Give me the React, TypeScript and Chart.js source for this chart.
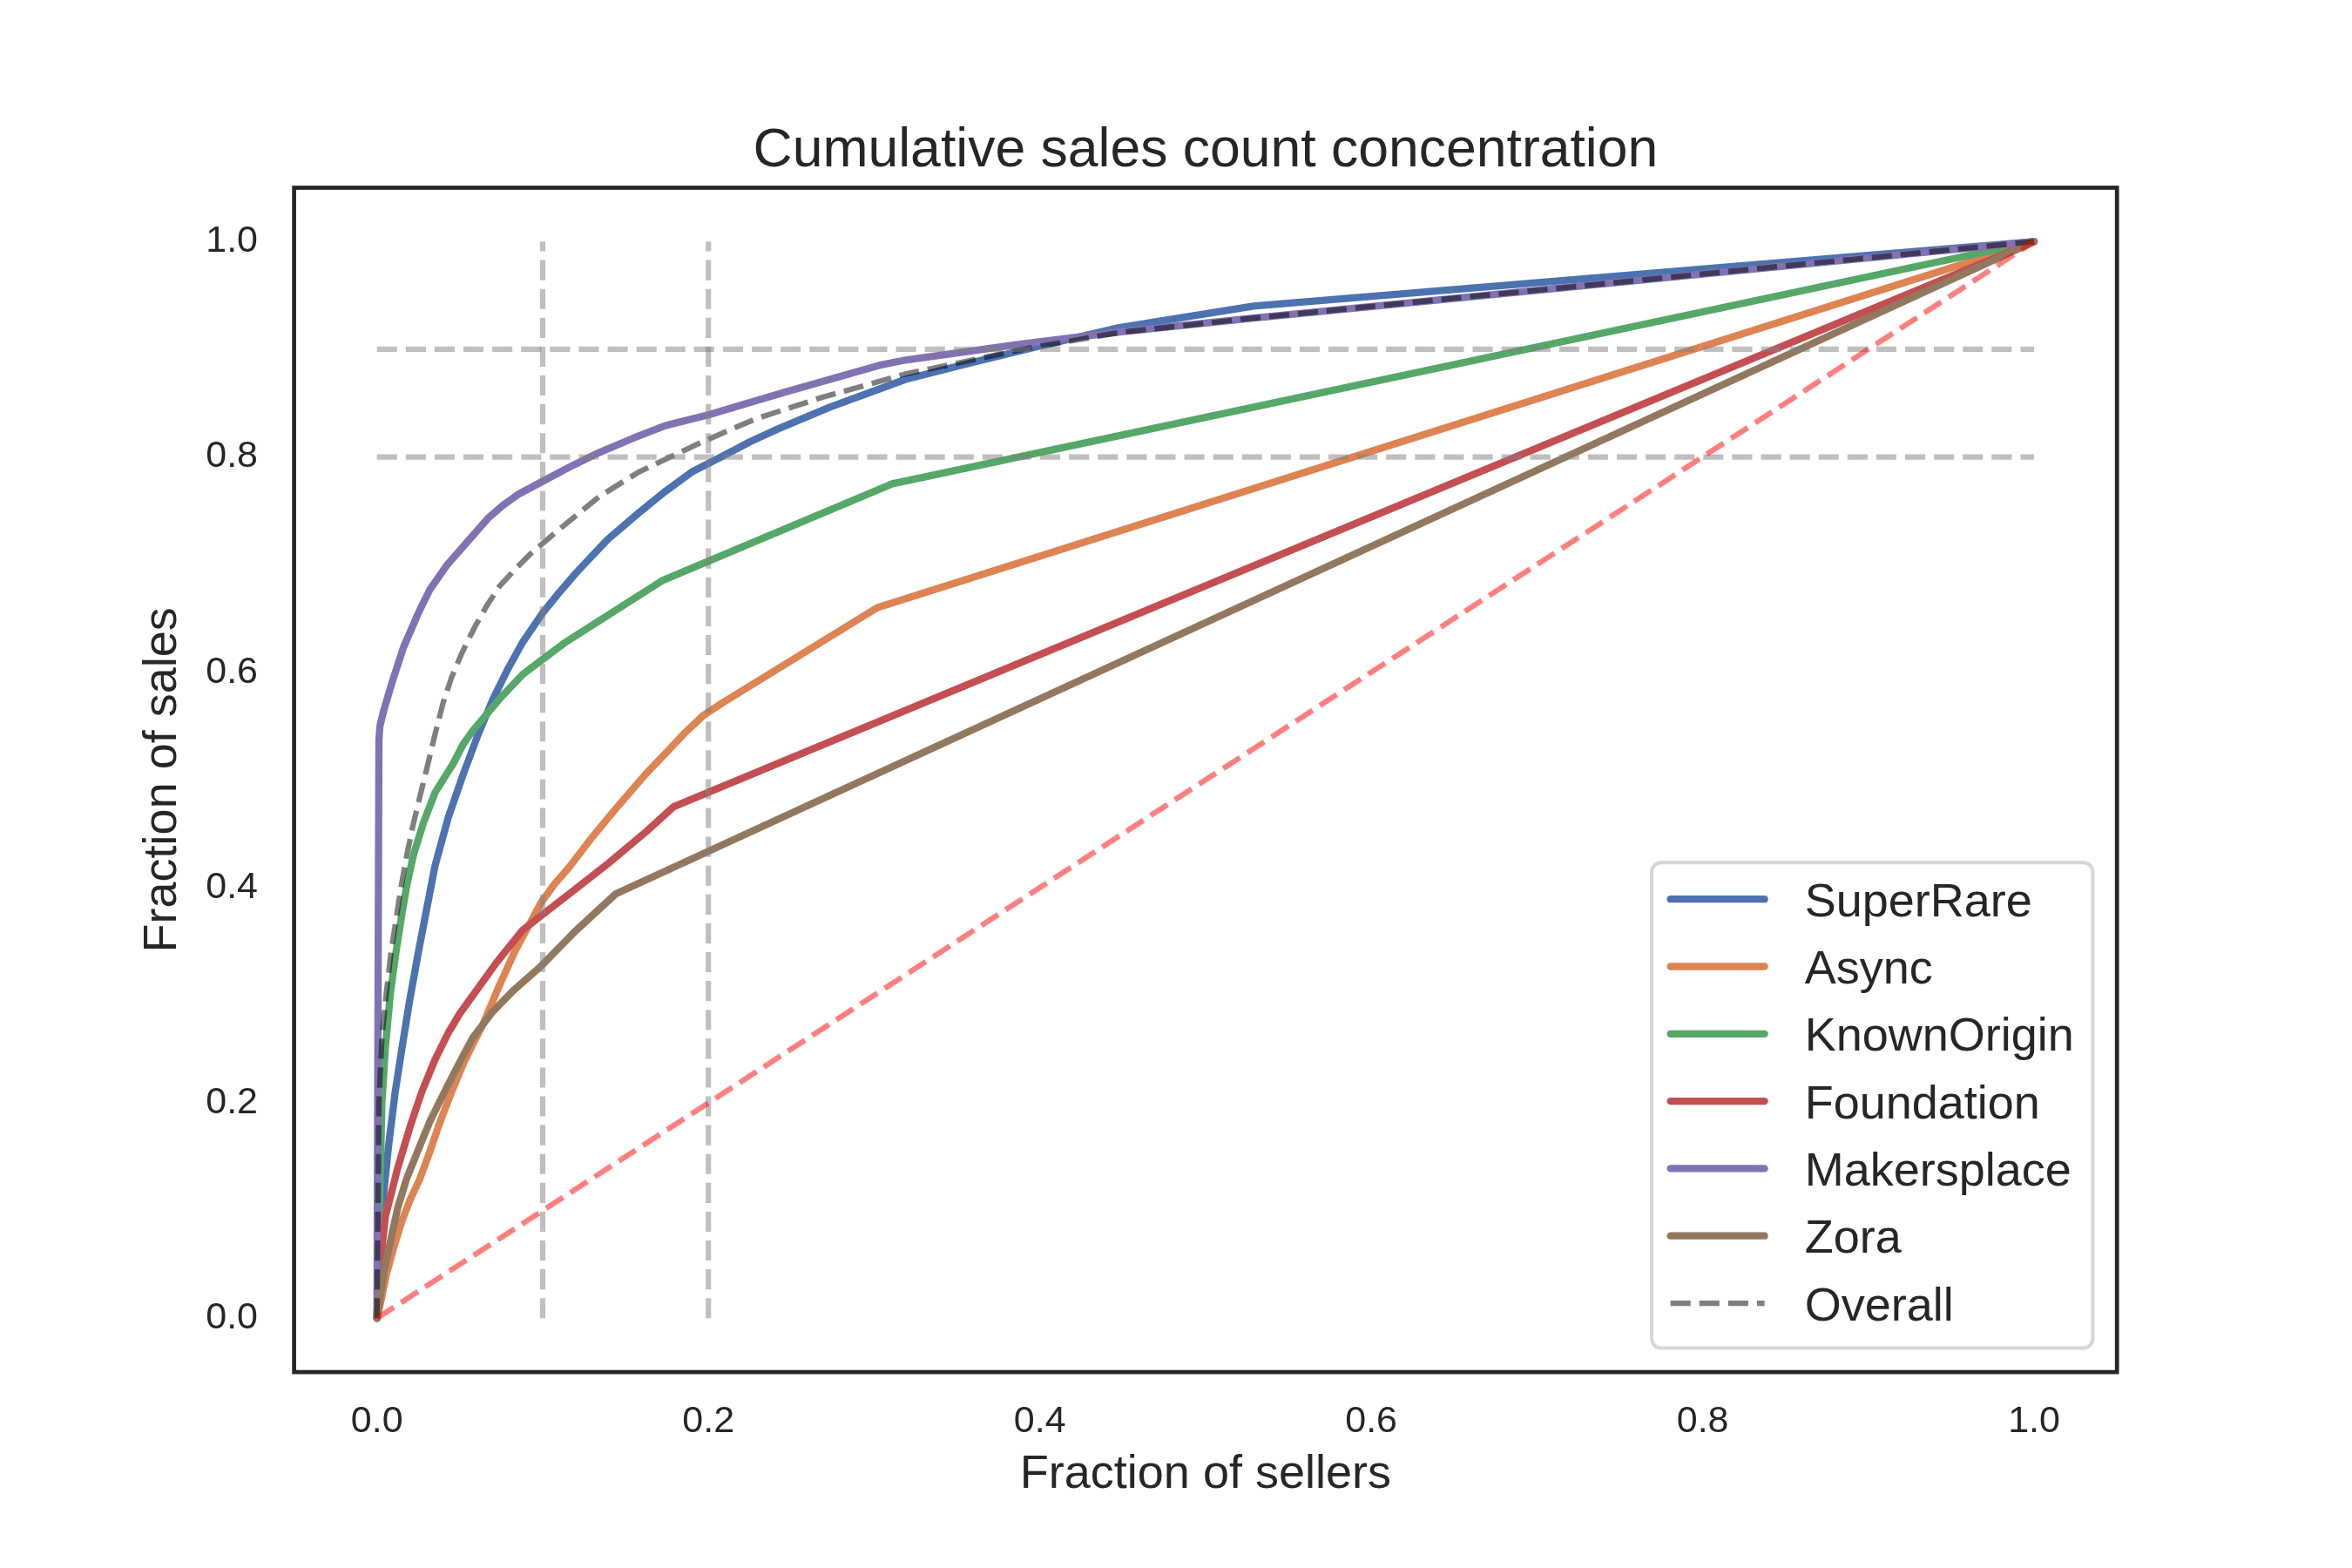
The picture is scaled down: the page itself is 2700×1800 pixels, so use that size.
import React, { useEffect, useRef } from "react";
import { Chart, registerables } from "chart.js";

Chart.register(...registerables);

// ---------------- data ----------------
const seriesNames = ["SuperRare", "Async", "KnownOrigin", "Foundation", "Makersplace", "Zora"];

const superRareX = [0, 0.003, 0.007, 0.011, 0.015, 0.0196, 0.025, 0.03, 0.035, 0.043, 0.052, 0.061, 0.07, 0.079, 0.088, 0.1, 0.11, 0.12, 0.139, 0.158, 0.174, 0.19, 0.209, 0.225, 0.242, 0.273, 0.319, 0.36, 0.4, 0.448, 0.529, 1];
const superRareY = [0, 0.1, 0.16, 0.21, 0.25, 0.294, 0.34, 0.38, 0.42, 0.465, 0.505, 0.542, 0.575, 0.603, 0.628, 0.655, 0.674, 0.692, 0.723, 0.748, 0.768, 0.786, 0.801, 0.814, 0.826, 0.846, 0.872, 0.888, 0.903, 0.92, 0.94, 1];

const asyncX = [0, 0.003, 0.0056, 0.01, 0.015, 0.02, 0.0255, 0.032, 0.038, 0.045, 0.052, 0.058, 0.064, 0.073, 0.083, 0.091, 0.099, 0.107, 0.116, 0.13, 0.144, 0.1625, 0.175, 0.186, 0.197, 0.209, 0.302, 1];
const asyncY = [0, 0.02, 0.04, 0.065, 0.09, 0.11, 0.128, 0.155, 0.182, 0.21, 0.236, 0.255, 0.273, 0.306, 0.34, 0.363, 0.386, 0.403, 0.419, 0.447, 0.473, 0.506, 0.526, 0.544, 0.56, 0.572, 0.66, 1];

const knownOriginX = [0, 0.0015, 0.003, 0.005, 0.008, 0.011, 0.015, 0.018, 0.022, 0.028, 0.035, 0.041, 0.046, 0.052, 0.058, 0.064, 0.075, 0.088, 0.1, 0.113, 0.172, 0.311, 1];
const knownOriginY = [0, 0.1, 0.2, 0.25, 0.3, 0.335, 0.375, 0.402, 0.43, 0.46, 0.488, 0.503, 0.515, 0.533, 0.546, 0.557, 0.577, 0.598, 0.612, 0.627, 0.685, 0.775, 1];

const foundationX = [0, 0.002, 0.005, 0.0126, 0.02, 0.027, 0.035, 0.043, 0.05, 0.057, 0.072, 0.0876, 0.1, 0.116, 0.14, 0.1625, 0.179, 1];
const foundationY = [0, 0.05, 0.094, 0.14, 0.178, 0.21, 0.24, 0.265, 0.283, 0.298, 0.33, 0.36, 0.375, 0.394, 0.423, 0.452, 0.475, 1];

const makersplaceX = [0, 0.0012, 0.0018, 0.004, 0.009, 0.016, 0.025, 0.032, 0.042, 0.055, 0.067, 0.076, 0.085, 0.102, 0.118, 0.134, 0.154, 0.174, 0.2, 0.246, 0.303, 0.319, 0.39, 0.448, 0.529, 1];
const makersplaceY = [0, 0.537, 0.55, 0.564, 0.59, 0.623, 0.655, 0.677, 0.699, 0.722, 0.743, 0.755, 0.765, 0.779, 0.792, 0.804, 0.817, 0.829, 0.839, 0.86, 0.885, 0.89, 0.905, 0.916, 0.929, 1];

const zoraX = [0, 0.0045, 0.0126, 0.018, 0.024, 0.032, 0.041, 0.05, 0.058, 0.07, 0.082, 0.099, 0.12, 0.144, 1];
const zoraY = [0, 0.045, 0.103, 0.13, 0.153, 0.183, 0.211, 0.238, 0.261, 0.285, 0.304, 0.327, 0.36, 0.394, 1];

const overallX = [0, 0.0012, 0.003, 0.0055, 0.0085, 0.0115, 0.0145, 0.018, 0.0215, 0.026, 0.03, 0.035, 0.04, 0.045, 0.051, 0.059, 0.066, 0.074, 0.083, 0.092, 0.111, 0.134, 0.158, 0.195, 0.228, 0.268, 0.319, 0.39, 0.448, 0.529, 1];
const overallY = [0, 0.2, 0.26, 0.3, 0.34, 0.37, 0.4, 0.43, 0.456, 0.485, 0.51, 0.542, 0.572, 0.595, 0.617, 0.642, 0.661, 0.68, 0.695, 0.709, 0.734, 0.763, 0.786, 0.813, 0.835, 0.855, 0.877, 0.9, 0.9155, 0.929, 1];

const refVerticalX = [0.1, 0.2];
const refHorizontalY = [0.8, 0.9];
const equalityX = [0, 1];
const equalityY = [0, 1];

const xTickValues = [0, 0.2, 0.4, 0.6, 0.8, 1.0];
const yTickValues = [0, 0.2, 0.4, 0.6, 0.8, 1.0];

const titleText = "Cumulative sales count concentration";
const xLabel = "Fraction of sellers";
const yLabel = "Fraction of sales";
const overallLabel = "Overall";

// ---------------- style ----------------
const FONT = "'Liberation Sans', Arial, Helvetica, sans-serif";
const INK = "#262626";
const LW_SERIES = 8.33;
const LW_DASH = 6.25;
const DASH = [23.1, 10];
const seriesColors = ["#4c72b0", "#dd8452", "#55a868", "#c44e52", "#8172b3", "#937860"];

function toPoints(xs: number[], ys: number[]) {
  return xs.map((x, i) => ({ x, y: ys[i] }));
}

const bgPlugin = {
  id: "bgWhite",
  beforeDraw(chart: any) {
    const ctx = chart.ctx;
    ctx.save();
    ctx.fillStyle = "#ffffff";
    ctx.fillRect(0, 0, chart.width, chart.height);
    ctx.restore();
  },
};

const framePlugin = {
  id: "axesFrame",
  afterDatasetsDraw(chart: any) {
    const ctx = chart.ctx;
    const ca = chart.chartArea;
    ctx.save();
    ctx.strokeStyle = INK;
    ctx.lineWidth = 4.7;
    ctx.setLineDash([]);
    ctx.lineJoin = "miter";
    ctx.strokeRect(ca.left, ca.top, ca.right - ca.left, ca.bottom - ca.top);
    ctx.restore();
  },
};

function roundedRect(ctx: CanvasRenderingContext2D, x: number, y: number, w: number, h: number, r: number) {
  ctx.beginPath();
  ctx.moveTo(x + r, y);
  ctx.lineTo(x + w - r, y);
  ctx.arcTo(x + w, y, x + w, y + r, r);
  ctx.lineTo(x + w, y + h - r);
  ctx.arcTo(x + w, y + h, x + w - r, y + h, r);
  ctx.lineTo(x + r, y + h);
  ctx.arcTo(x, y + h, x, y + h - r, r);
  ctx.lineTo(x, y + r);
  ctx.arcTo(x, y, x + r, y, r);
  ctx.closePath();
}

const legendPlugin = {
  id: "insideLegend",
  afterDraw(chart: any) {
    const ctx: CanvasRenderingContext2D = chart.ctx;
    const ca = chart.chartArea;
    const items = chart.data.datasets.filter((d: any) => d.inLegend);
    ctx.save();
    ctx.font = `54px ${FONT}`;
    const maxW = Math.max(...items.map((d: any) => ctx.measureText(d.label).width));
    const pad = 21.6;
    const handle = 108;
    const textPad = 46;
    const rowH = 77.3;
    const firstOff = 42;
    const lastOff = 51.5;
    const right = ca.right - 27.8;
    const bottom = ca.bottom - 27.6;
    const height = firstOff + rowH * (items.length - 1) + lastOff;
    const width = pad + handle + textPad + maxW + pad;
    const left = right - width;
    const top = bottom - height;
    roundedRect(ctx, left, top, width, height, 10.8);
    ctx.fillStyle = "rgba(255,255,255,0.8)";
    ctx.fill();
    ctx.lineWidth = 4;
    ctx.strokeStyle = "rgba(204,204,204,0.8)";
    ctx.stroke();
    items.forEach((d: any, i: number) => {
      const cy = top + firstOff + i * rowH;
      const dashed = Array.isArray(d.borderDash) && d.borderDash.length > 0;
      ctx.beginPath();
      ctx.moveTo(left + pad, cy);
      ctx.lineTo(left + pad + handle, cy);
      ctx.lineWidth = d.borderWidth;
      ctx.strokeStyle = d.borderColor;
      ctx.setLineDash(dashed ? d.borderDash : []);
      ctx.lineCap = dashed ? "butt" : "round";
      ctx.stroke();
      ctx.setLineDash([]);
      ctx.fillStyle = INK;
      ctx.textAlign = "left";
      ctx.textBaseline = "alphabetic";
      ctx.fillText(d.label, left + pad + handle + textPad, cy + 19.5);
    });
    ctx.restore();
  },
};

export default function App() {
  const canvasRef = useRef<HTMLCanvasElement>(null);

  useEffect(() => {
    const canvas = canvasRef.current;
    if (!canvas) return;

    const seriesX = [superRareX, asyncX, knownOriginX, foundationX, makersplaceX, zoraX];
    const seriesY = [superRareY, asyncY, knownOriginY, foundationY, makersplaceY, zoraY];

    const datasets: any[] = [];
    seriesNames.forEach((name, i) => {
      datasets.push({
        label: name,
        data: toPoints(seriesX[i], seriesY[i]),
        borderColor: seriesColors[i],
        borderWidth: LW_SERIES,
        borderCapStyle: "round",
        borderJoinStyle: "round",
        pointRadius: 0,
        tension: 0,
        fill: false,
        order: 100 - i,
        inLegend: true,
      });
    });
    datasets.push({
      label: overallLabel,
      data: toPoints(overallX, overallY),
      borderColor: "rgba(0,0,0,0.5)",
      borderWidth: LW_DASH,
      borderDash: DASH,
      borderCapStyle: "butt",
      borderJoinStyle: "round",
      pointRadius: 0,
      tension: 0,
      fill: false,
      order: 90,
      inLegend: true,
    });
    refVerticalX.forEach((v, i) => {
      datasets.push({
        label: `x=${v}`,
        data: [
          { x: v, y: 0 },
          { x: v, y: 1 },
        ],
        borderColor: "rgba(128,128,128,0.5)",
        borderWidth: LW_DASH,
        borderDash: DASH,
        borderCapStyle: "butt",
        pointRadius: 0,
        fill: false,
        order: 80 - i,
      });
    });
    refHorizontalY.forEach((v, i) => {
      datasets.push({
        label: `y=${v}`,
        data: [
          { x: 0, y: v },
          { x: 1, y: v },
        ],
        borderColor: "rgba(128,128,128,0.5)",
        borderWidth: LW_DASH,
        borderDash: DASH,
        borderCapStyle: "butt",
        pointRadius: 0,
        fill: false,
        order: 70 - i,
      });
    });
    datasets.push({
      label: "equality",
      data: toPoints(equalityX, equalityY),
      borderColor: "rgba(255,0,0,0.5)",
      borderWidth: LW_DASH,
      borderDash: DASH,
      borderCapStyle: "butt",
      pointRadius: 0,
      fill: false,
      order: 60,
    });

    const tickFont = { family: FONT, size: 43 };
    const labelFont = { family: FONT, size: 54 };

    const chart = new Chart(canvas, {
      type: "line",
      data: { datasets },
      options: {
        responsive: false,
        animation: false,
        devicePixelRatio: 1,
        events: [],
        layout: { padding: { left: 0, top: 0, right: 269.8, bottom: 0 } },
        plugins: {
          legend: { display: false },
          tooltip: { enabled: false },
          title: {
            display: true,
            text: titleText,
            color: INK,
            fullSize: false,
            font: { family: FONT, size: 62.5, weight: "normal" },
            padding: { top: 136.5, bottom: 4 },
          },
        },
        scales: {
          x: {
            type: "linear",
            min: -0.05,
            max: 1.05,
            bounds: "data",
            grid: { display: false, drawTicks: false },
            border: { display: false },
            afterBuildTicks: (s: any) => {
              s.ticks = xTickValues.map((v) => ({ value: v }));
            },
            ticks: {
              autoSkip: false,
              maxRotation: 0,
              color: INK,
              font: tickFont,
              padding: 31.2,
              callback: (v: any) => Number(v).toFixed(1),
            },
            title: {
              display: true,
              text: xLabel,
              color: INK,
              font: labelFont,
              padding: { top: 0, bottom: 74.6 },
            },
            afterFit: (s: any) => {
              s.height = 224.9;
            },
          },
          y: {
            type: "linear",
            min: -0.05,
            max: 1.05,
            bounds: "data",
            grid: { display: false, drawTicks: false },
            border: { display: false },
            afterBuildTicks: (s: any) => {
              s.ticks = yTickValues.map((v) => ({ value: v }));
            },
            ticks: {
              autoSkip: false,
              color: INK,
              font: tickFont,
              padding: 41.6,
              callback: (v: any) => Number(v).toFixed(1),
            },
            title: {
              display: true,
              text: yLabel,
              color: INK,
              font: labelFont,
              padding: { top: 154.9, bottom: 0 },
            },
            afterFit: (s: any) => {
              s.width = 337.6;
            },
          },
        },
      } as any,
      plugins: [bgPlugin, framePlugin, legendPlugin],
    });

    return () => {
      chart.destroy();
    };
  }, []);

  return (
    <div style={{ position: "absolute", left: 0, top: 0, width: 2700, height: 1800, background: "#fff" }}>
      <canvas ref={canvasRef} width={2700} height={1800} style={{ display: "block", width: 2700, height: 1800 }} />
    </div>
  );
}
